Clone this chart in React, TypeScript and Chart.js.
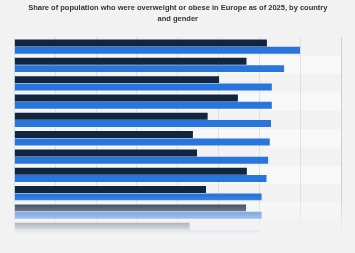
import { useEffect, useRef } from 'react';
import { Chart, registerables } from 'chart.js';

Chart.register(...registerables);

// Rows, top to bottom (country names are not printed on the chart)
const countries = ['1', '2', '3', '4', '5', '6', '7', '8', '9', '10', '11'];
// Share of women who were overweight or obese, in percent
const femaleShare = [61.8, 56.8, 50.1, 54.7, 47.3, 43.7, 44.7, 56.9, 46.9, 56.7, 42.9];
// Share of men who were overweight or obese, in percent
const maleShare = [69.9, 66.0, 63.0, 63.0, 62.8, 62.5, 62.1, 61.7, 60.5, 60.5, 59.8];
// Value axis range and grid step
const axisMax = 80;
const axisStep = 10;

const PAGE_BG = '#f2f2f2';
const BAND_BG = '#f8f8f8';
const FEMALE_COLOR = '#10253f';
const MALE_COLOR = '#2876dd';

// Page background plus alternating lighter row bands behind the bars
const rowBands = {
  id: 'rowBands',
  beforeDraw(chart: any) {
    const { ctx, chartArea } = chart;
    ctx.save();
    ctx.fillStyle = PAGE_BG;
    ctx.fillRect(0, 0, chart.width, chart.height);
    const n = countries.length;
    const pitch = (chartArea.bottom - chartArea.top) / n;
    ctx.fillStyle = BAND_BG;
    for (let i = 1; i < n; i += 2) {
      ctx.fillRect(chartArea.left, chartArea.top + i * pitch, chartArea.right - chartArea.left, pitch);
    }
    ctx.restore();
  },
};

// Lower rows fade out into the page background
const bottomFade = {
  id: 'bottomFade',
  afterDraw(chart: any) {
    const { ctx, width, height } = chart;
    const start = height * 0.775;
    const end = height * 0.925;
    const g = ctx.createLinearGradient(0, start, 0, end);
    g.addColorStop(0, 'rgba(242,242,242,0)');
    g.addColorStop(1, 'rgba(242,242,242,1)');
    ctx.save();
    ctx.fillStyle = g;
    ctx.fillRect(0, start, width, height - start);
    ctx.restore();
  },
};

export default function App() {
  const canvasRef = useRef<HTMLCanvasElement | null>(null);

  useEffect(() => {
    const canvas = canvasRef.current;
    if (!canvas) return;
    const chart = new Chart(canvas, {
      type: 'bar',
      data: {
        labels: countries,
        datasets: [
          {
            label: 'Female',
            data: femaleShare,
            backgroundColor: FEMALE_COLOR,
            barPercentage: 0.95,
            categoryPercentage: 0.8,
          },
          {
            label: 'Male',
            data: maleShare,
            backgroundColor: MALE_COLOR,
            barPercentage: 0.95,
            categoryPercentage: 0.8,
          },
        ],
      },
      options: {
        indexAxis: 'y',
        responsive: false,
        animation: false,
        devicePixelRatio: 1,
        layout: { padding: { left: 14.3, right: 13.7, top: 0, bottom: 14 } },
        plugins: {
          legend: { display: false },
          tooltip: { enabled: false },
          title: {
            display: true,
            text: [
              'Share of population who were overweight or obese in Europe as of 2025, by country',
              'and gender',
            ],
            color: '#333333',
            font: { family: '"Liberation Sans", Arial, sans-serif', size: 7.5, weight: 'bold', lineHeight: 1.5 },
            padding: { top: 2, bottom: 13 },
          },
        },
        scales: {
          x: {
            min: 0,
            max: axisMax,
            ticks: { display: false, stepSize: axisStep },
            grid: {
              drawTicks: false,
              color: (c: any) => (c.tick && c.tick.value === axisMax ? '#cfcfcf' : '#e0e0e0'),
            },
            border: { display: false },
          },
          y: {
            display: false,
          },
        },
      },
      plugins: [rowBands, bottomFade],
    });
    return () => chart.destroy();
  }, []);

  return (
    <div style={{ position: 'fixed', left: 0, top: 0, width: 355, height: 253, background: PAGE_BG }}>
      <canvas ref={canvasRef} width={355} height={253} style={{ display: 'block' }} />
    </div>
  );
}
